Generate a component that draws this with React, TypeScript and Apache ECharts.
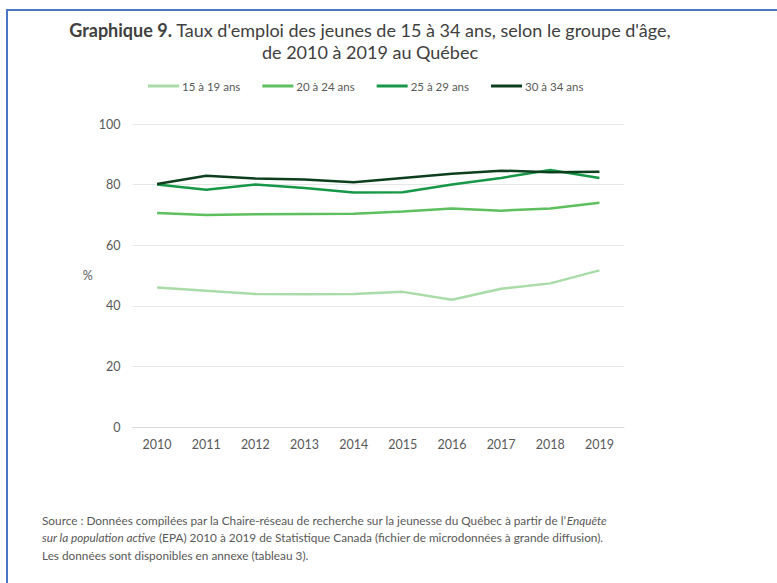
import React, { useEffect, useRef } from "react";
import * as echarts from "echarts";

const years = ["2010", "2011", "2012", "2013", "2014", "2015", "2016", "2017", "2018", "2019"];
const seriesNames = ["15 à 19 ans", "20 à 24 ans", "25 à 29 ans", "30 à 34 ans"];
const age15to19 = [46.0, 45.0, 43.9, 43.8, 43.9, 44.6, 42.0, 45.6, 47.4, 51.7];
const age20to24 = [70.6, 70.0, 70.2, 70.3, 70.4, 71.1, 72.1, 71.4, 72.1, 74.0];
const age25to29 = [80.0, 78.3, 80.0, 78.9, 77.4, 77.5, 80.0, 82.2, 84.8, 82.2];
const age30to34 = [80.2, 82.9, 82.0, 81.7, 80.8, 82.2, 83.6, 84.6, 84.1, 84.2];
const seriesColors = ["#a9dca9", "#5dbf5d", "#169848", "#0d3f1f"];
const yTicks = [0, 20, 40, 60, 80, 100];

const FONT = "Lato, 'Noto Sans', sans-serif";

export default function App() {
  const ref = useRef<HTMLDivElement>(null);
  useEffect(() => {
    if (!ref.current) return;
    const chart = echarts.init(ref.current, null, { renderer: "svg" });
    const data = [age15to19, age20to24, age25to29, age30to34];
    chart.setOption({
      animation: false,
      backgroundColor: "#ffffff",
      textStyle: { fontFamily: FONT },
      legend: {
        left: 143,
        top: 75,
        icon: "rect",
        itemWidth: 31,
        itemHeight: 3,
        itemGap: 22,
        textStyle: { color: "#595959", fontSize: 11.5, fontFamily: FONT, padding: [0, 0, 0, -2] },
        data: seriesNames,
      },
      grid: { left: 132.5, right: 153, top: 124, bottom: 156 },
      xAxis: {
        type: "category",
        data: years,
        boundaryGap: true,
        axisLine: { show: true, lineStyle: { color: "#d9d9d9" } },
        axisTick: { show: false },
        axisLabel: { color: "#595959", fontSize: 12.5, margin: 11, fontFamily: FONT },
      },
      yAxis: {
        type: "value",
        min: yTicks[0],
        max: yTicks[yTicks.length - 1],
        interval: 20,
        name: "%",
        nameLocation: "middle",
        nameRotate: 0,
        nameGap: 30,
        nameTextStyle: { color: "#595959", fontSize: 12.5, fontFamily: FONT },
        axisLine: { show: false },
        axisTick: { show: false },
        axisLabel: { color: "#595959", fontSize: 12.5, margin: 12, fontFamily: FONT },
        splitLine: { lineStyle: { color: "#e6e6e6" } },
      },
      series: seriesNames.map((name, i) => ({
        name,
        type: "line",
        data: data[i],
        symbol: "none",
        lineStyle: { color: seriesColors[i], width: 2.5 },
        itemStyle: { color: seriesColors[i] },
      })),
      graphic: [
        {
          type: "polyline",
          shape: { points: [[7, 600], [7, 10], [800, 10]] },
          style: { fill: "none", stroke: "#4a76c8", lineWidth: 2 },
          silent: true,
        },
        {
          type: "text",
          x: 370,
          y: 30,
          style: {
            text: "{b|Graphique 9.} Taux d'emploi des jeunes de 15 à 34 ans, selon le groupe d'âge,",
            fontFamily: FONT,
            fontSize: 18,
            fill: "#404040",
            align: "center",
            verticalAlign: "middle",
            rich: {
              b: { fontWeight: "bold", fontSize: 18, fontFamily: FONT, fill: "#404040" },
            },
          },
        },
        {
          type: "text",
          x: 370,
          y: 52,
          style: {
            text: "de 2010 à 2019 au Québec",
            fontFamily: FONT,
            fontSize: 18,
            fill: "#404040",
            align: "center",
            verticalAlign: "middle",
          },
        },
        {
          type: "text",
          x: 42,
          y: 520,
          style: {
            text: "Source : Données compilées par la Chaire-réseau de recherche sur la jeunesse du Québec à partir de l’{i|Enquête}",
            fontFamily: FONT,
            fontSize: 11.8,
            fill: "#595959",
            verticalAlign: "middle",
            rich: { i: { fontStyle: "italic", fontSize: 11.8, fontFamily: FONT, fill: "#595959" } },
          },
        },
        {
          type: "text",
          x: 42,
          y: 537.5,
          style: {
            text: "{i|sur la population active} (EPA) 2010 à 2019 de Statistique Canada (fichier de microdonnées à grande diffusion).",
            fontFamily: FONT,
            fontSize: 11.8,
            fill: "#595959",
            verticalAlign: "middle",
            rich: { i: { fontStyle: "italic", fontSize: 11.8, fontFamily: FONT, fill: "#595959" } },
          },
        },
        {
          type: "text",
          x: 42,
          y: 555,
          style: {
            text: "Les données sont disponibles en annexe (tableau 3).",
            fontFamily: FONT,
            fontSize: 11.8,
            fill: "#595959",
            verticalAlign: "middle",
          },
        },
      ],
    });
    return () => chart.dispose();
  }, []);
  return (
    <div
      ref={ref}
      style={{ position: "fixed", left: 0, top: 0, width: 777, height: 583 }}
    />
  );
}
